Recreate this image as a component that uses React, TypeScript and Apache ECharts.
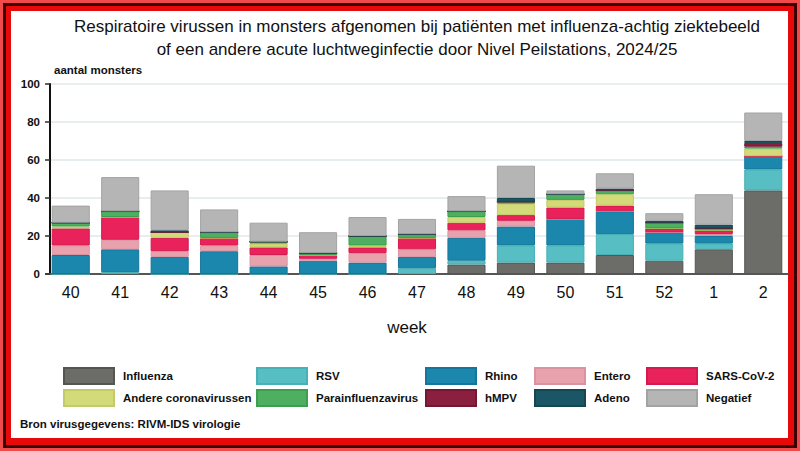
import React, { useEffect, useRef } from "react";
import * as echarts from "echarts";

const weeks = ["40", "41", "42", "43", "44", "45", "46", "47", "48", "49", "50", "51", "52", "1", "2"];
const yTicks = [0, 20, 40, 60, 80, 100];

const influenza = [0, 0, 0, 0, 0, 0, 0, 0, 5, 6, 6, 10, 7, 13, 44];
const rsv = [0, 1, 0, 0, 0, 0, 0, 3, 2, 9, 9, 11, 9, 3, 11];
const rhino = [10, 12, 9, 12, 4, 7, 6, 6, 12, 10, 14, 12, 6, 4, 7];
const entero = [5, 5, 3, 3, 6, 1, 5, 4, 4, 3, 0, 0, 0, 1, 0];
const sarsCov2 = [9, 12, 7, 4, 4, 2, 3, 6, 4, 3, 6, 3, 2, 2, 0];
const andereCorona = [1, 0, 3, 0, 2, 0, 1, 0, 3, 6, 4, 6, 0, 0, 4];
const parainfluenza = [2, 3, 0, 3, 1, 1, 5, 2, 3, 1, 3, 2, 3, 1, 1];
const hmpv = [0, 0, 0, 0, 0, 0, 0, 0, 0, 0, 0, 0, 0, 0, 2];
const adeno = [0, 0, 1, 0, 0, 0, 0, 0, 0, 2, 0, 1, 1, 2, 1];
const negatief = [9, 18, 21, 12, 10, 11, 10, 8, 8, 17, 2, 8, 4, 16, 15];

const seriesNames = [
  "Influenza",
  "RSV",
  "Rhino",
  "Entero",
  "SARS-CoV-2",
  "Andere coronavirussen",
  "Parainfluenzavirus",
  "hMPV",
  "Adeno",
  "Negatief",
];
const seriesData = [influenza, rsv, rhino, entero, sarsCov2, andereCorona, parainfluenza, hmpv, adeno, negatief];
const colors = ["#6c6c68", "#57bec3", "#1c87ad", "#e8a2ae", "#e9225b", "#d3da79", "#4daf5f", "#8a1f3f", "#1b5667", "#b5b5b5"];
const borders = ["#555552", "#46b1b6", "#15759a", "#dc93a0", "#d41a4e", "#c3ca66", "#3c9f50", "#741832", "#154753", "#a3a3a3"];

// legend layout: columns (left of swatch) and rows (top)
const legendCols = [63, 256, 425, 534, 646];
const legendRows = [367, 389];

export default function App() {
  const ref = useRef<HTMLDivElement>(null);

  useEffect(() => {
    if (!ref.current) return;
    const chart = echarts.init(ref.current, null, { renderer: "svg" });

    const series = seriesNames.map((name, i) => ({
      name,
      type: "bar",
      stack: "total",
      data: seriesData[i],
      barCategoryGap: "23%",
      itemStyle: { color: colors[i], borderColor: borders[i], borderWidth: 1 },
      emphasis: { disabled: true },
    }));

    const legends = seriesNames.map((name, i) => ({
      data: [name],
      left: legendCols[i % 5],
      top: legendRows[Math.floor(i / 5)],
      itemWidth: 50,
      itemHeight: 16,
      icon: "rect",
      selectedMode: false,
      padding: 0,
      itemGap: 0,
      textStyle: { fontFamily: "Liberation Sans, Arial", fontSize: 11.5, fontWeight: "bold", color: "#111", padding: [0, 0, 0, 4] },
    }));

    chart.setOption({
      animation: false,
      backgroundColor: "transparent",
      textStyle: { fontFamily: "Liberation Sans, Arial" },
      grid: { left: 46, right: 12, top: 84, bottom: 177, containLabel: false },
      legend: legends,
      xAxis: {
        type: "category",
        data: weeks,
        axisLine: { lineStyle: { color: "#555", width: 2 } },
        axisTick: { alignWithLabel: true, length: 5, lineStyle: { color: "#333", width: 1.5 } },
        axisLabel: { fontSize: 16, color: "#111", margin: 10, fontFamily: "Liberation Sans, Arial" },
      },
      yAxis: {
        type: "value",
        min: 0,
        max: 100,
        interval: 20,
        offset: -4,
        axisLine: { show: true, lineStyle: { color: "#111", width: 2 } },
        axisTick: { show: true, length: 5, lineStyle: { color: "#333", width: 1.5 } },
        axisLabel: {
          fontSize: 11.5,
          fontWeight: "bold",
          color: "#111",
          margin: 10,
          fontFamily: "Liberation Sans, Arial",
          formatter: (v: number) => (yTicks.includes(v) ? String(v) : ""),
        },
        splitLine: { lineStyle: { color: "#e1e8ea", width: 1.5 } },
      },
      series,
      graphic: [
        {
          type: "text",
          x: 417,
          y: 15,
          style: {
            text: "Respiratoire virussen in monsters afgenomen bij patiënten met influenza-achtig ziektebeeld\nof een andere acute luchtweginfectie door Nivel Peilstations, 2024/25",
            fontFamily: "Liberation Sans, Arial",
            fontSize: 17,
            lineHeight: 23,
            fill: "#111",
            align: "center",
            verticalAlign: "top",
          },
        },
        {
          type: "text",
          x: 54,
          y: 70,
          style: {
            text: "aantal monsters",
            fontFamily: "Liberation Sans, Arial",
            fontSize: 11.5,
            fontWeight: "bold",
            fill: "#111",
            align: "left",
            verticalAlign: "middle",
          },
        },
        {
          type: "text",
          x: 407,
          y: 327,
          style: {
            text: "week",
            fontFamily: "Liberation Sans, Arial",
            fontSize: 17,
            fill: "#111",
            align: "center",
            verticalAlign: "middle",
          },
        },
        {
          type: "text",
          x: 20,
          y: 424,
          style: {
            text: "Bron virusgegevens: RIVM-IDS virologie",
            fontFamily: "Liberation Sans, Arial",
            fontSize: 11.5,
            fontWeight: "bold",
            fill: "#111",
            align: "left",
            verticalAlign: "middle",
          },
        },
      ],
    });

    return () => chart.dispose();
  }, []);

  return (
    <div style={{ position: "fixed", left: 0, top: 0, width: 800, height: 451, background: "#f24a4a", boxSizing: "border-box", padding: 3 }}>
      <div style={{ width: "100%", height: "100%", background: "#3a0000", boxSizing: "border-box", padding: 3 }}>
        <div style={{ width: "100%", height: "100%", background: "#e60a0a", boxSizing: "border-box", padding: "5px 6px 7px 5px" }}>
          <div style={{ width: "100%", height: "100%", background: "#ffffff" }} />
        </div>
      </div>
      <div ref={ref} style={{ position: "absolute", left: 0, top: 0, width: 800, height: 451 }} />
    </div>
  );
}
